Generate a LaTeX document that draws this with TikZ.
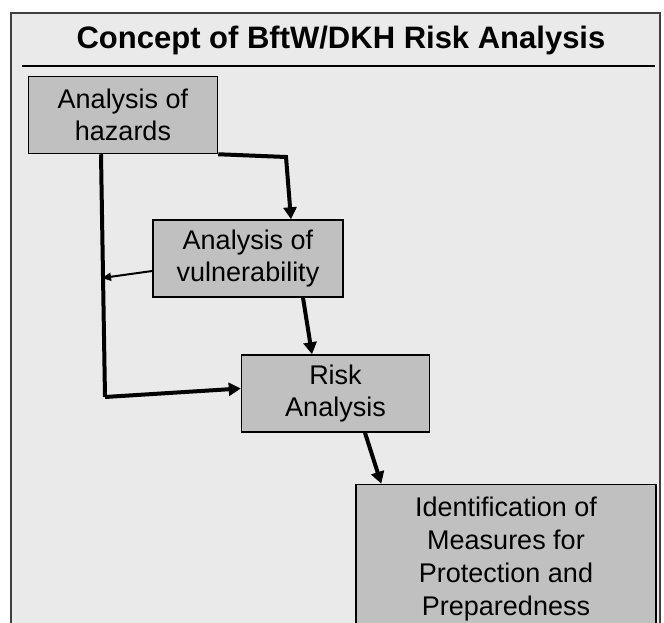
\documentclass[tikz,border=0pt]{standalone}
\usepackage{fontspec}
\setmainfont{Liberation Sans}
\usetikzlibrary{arrows.meta}
\definecolor{panel}{HTML}{EAEAEA}
\definecolor{boxgray}{HTML}{C0C0C0}
\begin{document}
\begin{tikzpicture}[x=1pt, y=-1pt, main/.style = {draw, fill = boxgray, line width = 1.5pt, align = center, inner sep = 0pt, font = \fontsize{27}{32.7}\selectfont}, link/.style = {line width = 4pt, -{Triangle[length = 12pt, width = 13pt]}}, thinlink/.style = {line width = 2pt, -{Triangle[length = 9pt, width = 8pt]}}]
                  \useasboundingbox (0,0) rectangle (664,623);
                  \clip (0,0) rectangle (664,623);
                  \draw[fill = panel, draw = black!75, line width = 1.5pt] (11,13) rectangle (660,660);
                  \node[font = \fontsize{31}{36}\selectfont\bfseries](t) at (341,40) {Concept of BftW/DKH Risk Analysis};
                  \draw[line width = 2pt] (22,66) -- (655,66);
                  \node[main, minimum width = 189pt, minimum height = 77pt](1) at (123,115) {Analysis of\\hazards};
                  \node[main, minimum width = 190pt, minimum height = 77pt](2) at (248,258.5) {Analysis of\\vulnerability};
                  \node[main, minimum width = 188pt, minimum height = 77pt](3) at (335.5,393.5) {Risk\\Analysis};
                  \node[main, minimum width = 300pt, minimum height = 149pt](4) at (506,559) {Identification of\\Measures for\\Protection and\\Preparedness};
                  \coordinate (b1) at (286,157);
                  \coordinate (b2) at (105,397);
                  \coordinate (b3) at (102,278);
                  \draw[link] (1.south east) -- (b1) -- ([xshift = 43pt]2.north);
                  \draw[line width = 4pt] ([xshift = -22pt]1.south) -- (b2);
                  \draw[link] (b2) -- ([yshift = 5pt]3.west);
                  \draw[thinlink] ([yshift = -12.5pt]2.west) -- (b3);
                  \draw[link] ([xshift = 55pt]2.south) -- ([xshift = -23.5pt]3.north);
                  \draw[link] ([xshift = 29.5pt]3.south) -- ([xshift = 26pt]4.north west);
          \end{tikzpicture}
\end{document}
